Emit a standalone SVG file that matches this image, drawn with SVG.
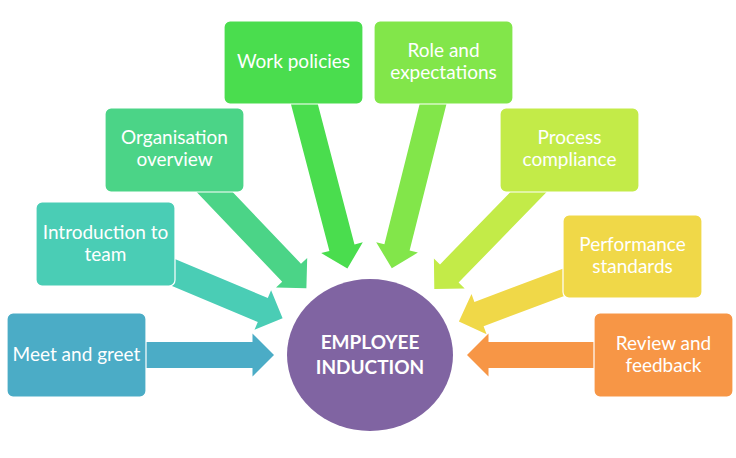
<svg xmlns="http://www.w3.org/2000/svg" width="736" height="458" viewBox="0 0 736 458">
<style>
.box{stroke:#ffffff;stroke-width:1.2}
.t{font-family:Lato,"Open Sans","Liberation Sans",sans-serif;font-size:19px;fill:#ffffff;text-anchor:middle}
.tb{font-family:Lato,"Open Sans","Liberation Sans",sans-serif;font-size:19px;font-weight:bold;fill:#ffffff;text-anchor:middle}
</style>
<rect width="736" height="458" fill="#ffffff"/>
<g id="connectors">
<polygon fill="#4BACC6" points="76.5,342 252.5,342 252.5,333.5 274,355 252.5,376.5 252.5,368 76.5,368"/>
<polygon fill="#4ACDB5" points="100.5,256 257.8,322 254.5,329.8 282.6,318.3 271.1,290.2 267.8,298 110.5,232"/>
<polygon fill="#4BD487" points="165.1,159 282.2,281.7 276,287.5 306.4,288.3 307.2,257.9 301,263.7 183.9,141"/>
<polygon fill="#4ADD4E" points="280.9,65.8 329.4,251 321.2,253.1 347.4,268.5 362.8,242.3 354.5,244.4 306.1,59.2"/>
<polygon fill="#82E64A" points="430.9,59.3 384.4,244.2 376.2,242.2 391.8,268.3 417.9,252.6 409.6,250.6 456.1,65.7"/>
<polygon fill="#C3EB48" points="560.2,140.9 440,264.4 433.9,258.5 434.3,288.9 464.7,288.5 458.6,282.6 578.8,159.1"/>
<polygon fill="#F0D848" points="627.9,244.3 474.4,301.9 471.5,293.9 458.9,321.6 486.6,334.2 483.6,326.2 637.1,268.7"/>
<polygon fill="#F79646" points="663.5,342 488.5,342 488.5,333.5 467,355 488.5,376.5 488.5,368 663.5,368"/>
</g>
<g id="node-meet">
<rect class="box" x="7" y="313" width="139" height="84" rx="6" fill="#4BACC6"/>
<text class="t" x="76.5" y="361">Meet and greet</text>
</g>
<g id="node-intro">
<rect class="box" x="36" y="202" width="139" height="84" rx="6" fill="#4ACDB5"/>
<text class="t" x="105.5" y="239">Introduction to</text>
<text class="t" x="105.5" y="261">team</text>
</g>
<g id="node-org">
<rect class="box" x="105" y="108" width="139" height="84" rx="6" fill="#4BD487"/>
<text class="t" x="174.5" y="144">Organisation</text>
<text class="t" x="174.5" y="166">overview</text>
</g>
<g id="node-work">
<rect class="box" x="224" y="21" width="139" height="83" rx="6" fill="#4ADD4E"/>
<text class="t" x="293.5" y="68">Work policies</text>
</g>
<g id="node-role">
<rect class="box" x="374" y="21" width="139" height="83" rx="6" fill="#82E64A"/>
<text class="t" x="443.5" y="57">Role and</text>
<text class="t" x="443.5" y="79">expectations</text>
</g>
<g id="node-process">
<rect class="box" x="500" y="108" width="139" height="84" rx="6" fill="#C3EB48"/>
<text class="t" x="569.5" y="144">Process</text>
<text class="t" x="569.5" y="166">compliance</text>
</g>
<g id="node-performance">
<rect class="box" x="563" y="215" width="139" height="83" rx="6" fill="#F0D848"/>
<text class="t" x="632.5" y="251">Performance</text>
<text class="t" x="632.5" y="273">standards</text>
</g>
<g id="node-review">
<rect class="box" x="594" y="313" width="139" height="84" rx="6" fill="#F79646"/>
<text class="t" x="663.5" y="350">Review and</text>
<text class="t" x="663.5" y="372">feedback</text>
</g>
<g id="node-center">
<ellipse cx="370" cy="355" rx="83" ry="76" fill="#8064A2"/>
<text class="tb" x="370" y="349">EMPLOYEE</text>
<text class="tb" x="370" y="374">INDUCTION</text>
</g>
</svg>
